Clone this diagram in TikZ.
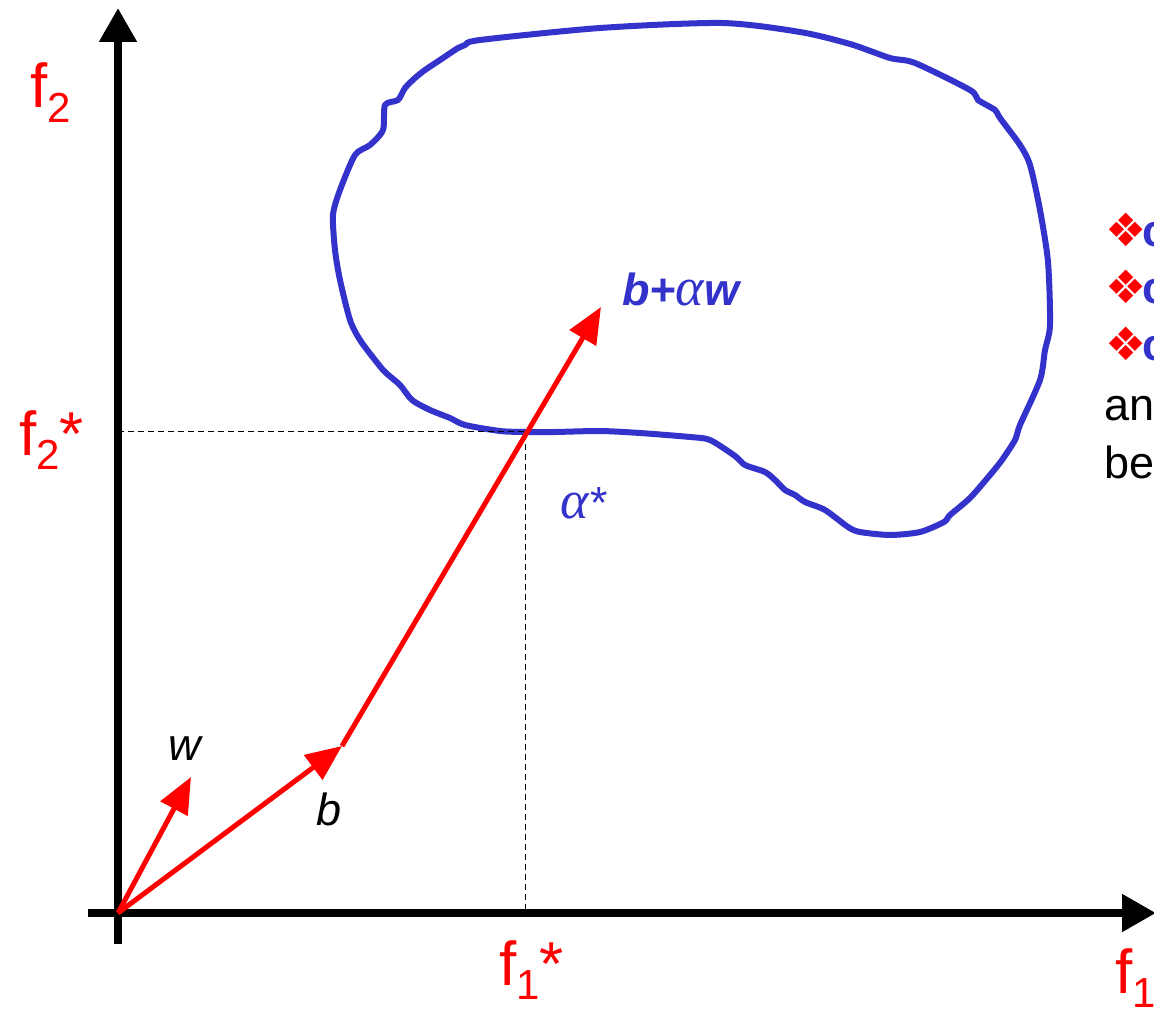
\documentclass[tikz,border=0pt]{standalone}
\usepackage{fontspec}
\setmainfont{Liberation Sans}
\newfontfamily\dejavu{DejaVu Sans}
\newfontfamily\greek{Liberation Serif}
\usetikzlibrary{arrows.meta,positioning}
\definecolor{setblue}{RGB}{51,51,204}
\definecolor{vecred}{RGB}{255,0,0}

% f with index and optional star
\newcommand{\flab}[2]{f\raisebox{-0.24em}{\fontsize{42}{42}\selectfont #1}#2}
\newcommand{\galpha}{{\greek\itshape\mdseries\fontsize{54}{54}\selectfont α}}

\begin{document}
\begin{tikzpicture}[
  x=1pt, y=-1pt,
  axis/.style={line width=8pt, -{Triangle[length=34pt,width=36pt]}},
  vec/.style={line width=5pt, vecred, -{Triangle[length=36pt,width=30pt]}},
  guide/.style={line width=1pt, dash pattern=on 6pt off 4pt},
  axlabel/.style={anchor=base west, text=vecred, inner sep=0pt, font=\fontsize{62}{70}\selectfont},
  veclabel/.style={anchor=base west, inner sep=0pt, font=\fontsize{45}{50}\selectfont\itshape},
  bullet/.style={anchor=west, inner sep=0pt, font=\fontsize{45}{50}\selectfont}
]
  \useasboundingbox (0,0) rectangle (1154,1011);
  \clip (0,0) rectangle (1154,1011);

  % axes
  \coordinate (O) at (118,913);
  \coordinate (ybot) at (118,944);
  \coordinate (ytop) at (118,8);
  \coordinate (xleft) at (88,913);
  \coordinate (xright) at (1156,913);
  \draw[axis] (ybot) -- (ytop);
  \draw[axis] (xleft) -- (xright);

  % feasible region
  \draw[setblue, line width=6pt, line join=round] plot[smooth cycle, tension=0.45] coordinates {
    (480,40) (600,28) (722,23) (800,32) (850,44) (890,58) (915,63) (970,90)
    (978,100) (995,110) (1000,118) (1020,145) (1030,165) (1040,210) (1048,262)
    (1050,325) (1045,350) (1040,380) (1020,425) (1015,440) (1002,460) (990,475)
    (970,498) (950,515) (944,522) (920,532) (890,535) (860,532) (848,527)
    (825,510) (805,502) (795,495) (785,490) (775,480) (765,472) (745,465)
    (735,456) (710,440) (690,437) (640,433) (600,431) (555,432) (525,432)
    (500,431) (465,425) (450,418) (430,410) (412,400) (400,385) (385,372)
    (375,360) (360,340) (350,320) (340,280) (335,250) (333,215) (340,190)
    (355,155) (370,145) (383,130) (385,105) (398,100) (405,88) (415,78)
    (425,70) (440,60) (458,48) (465,45)};

  % optimum guides
  \coordinate (opt) at (525,431);
  \coordinate (optx) at (525,913);
  \coordinate (opty) at (118,431);
  \draw[guide] (opty) -- (opt) -- (optx);

  % vectors
  \coordinate (wtip) at (191,777);
  \coordinate (btip) at (342,746);
  \coordinate (ltip) at (601,307);
  \draw[vec] (O) -- (wtip);
  \draw[vec] (O) -- (btip);
  \draw[vec] (btip) -- (ltip);

  % labels
  \node[axlabel] (f2) at (30,108) {\flab{2}{}};
  \node[axlabel] (f2s) at (19,455) {\flab{2}{*}};
  \node[axlabel] (f1s) at (499,985) {\flab{1}{*}};
  \node[axlabel] (f1) at (1115,993) {\flab{1}{}};
  \node[veclabel] (wlab) at (168,760) {w};
  \node[veclabel] (blab) at (316,825) {b};
  \node[veclabel, text=setblue] (alab) at (560,518) {\galpha*};
  \node[veclabel, text=setblue, font=\fontsize{45}{50}\selectfont\bfseries\itshape] (linelab) at (622,305) {b+\galpha w};

  % right-hand text
  \node[bullet] (c1) at (1105,230) {\textcolor{vecred}{\dejavu\fontsize{46}{48}\selectfont ❖}\kern-4pt\textcolor{setblue}{\bfseries c}};
  \node[bullet] (c2) at (1105,287) {\textcolor{vecred}{\dejavu\fontsize{46}{48}\selectfont ❖}\kern-4pt\textcolor{setblue}{\bfseries c}};
  \node[bullet] (c3) at (1105,344) {\textcolor{vecred}{\dejavu\fontsize{46}{48}\selectfont ❖}\kern-4pt\textcolor{setblue}{\bfseries c}};
  \node[anchor=base west, inner sep=0pt, font=\fontsize{45}{50}\selectfont] (an) at (1104,420) {an};
  \node[anchor=base west, inner sep=0pt, font=\fontsize{45}{50}\selectfont] (be) at (1104,478) {be};
\end{tikzpicture}
\end{document}
